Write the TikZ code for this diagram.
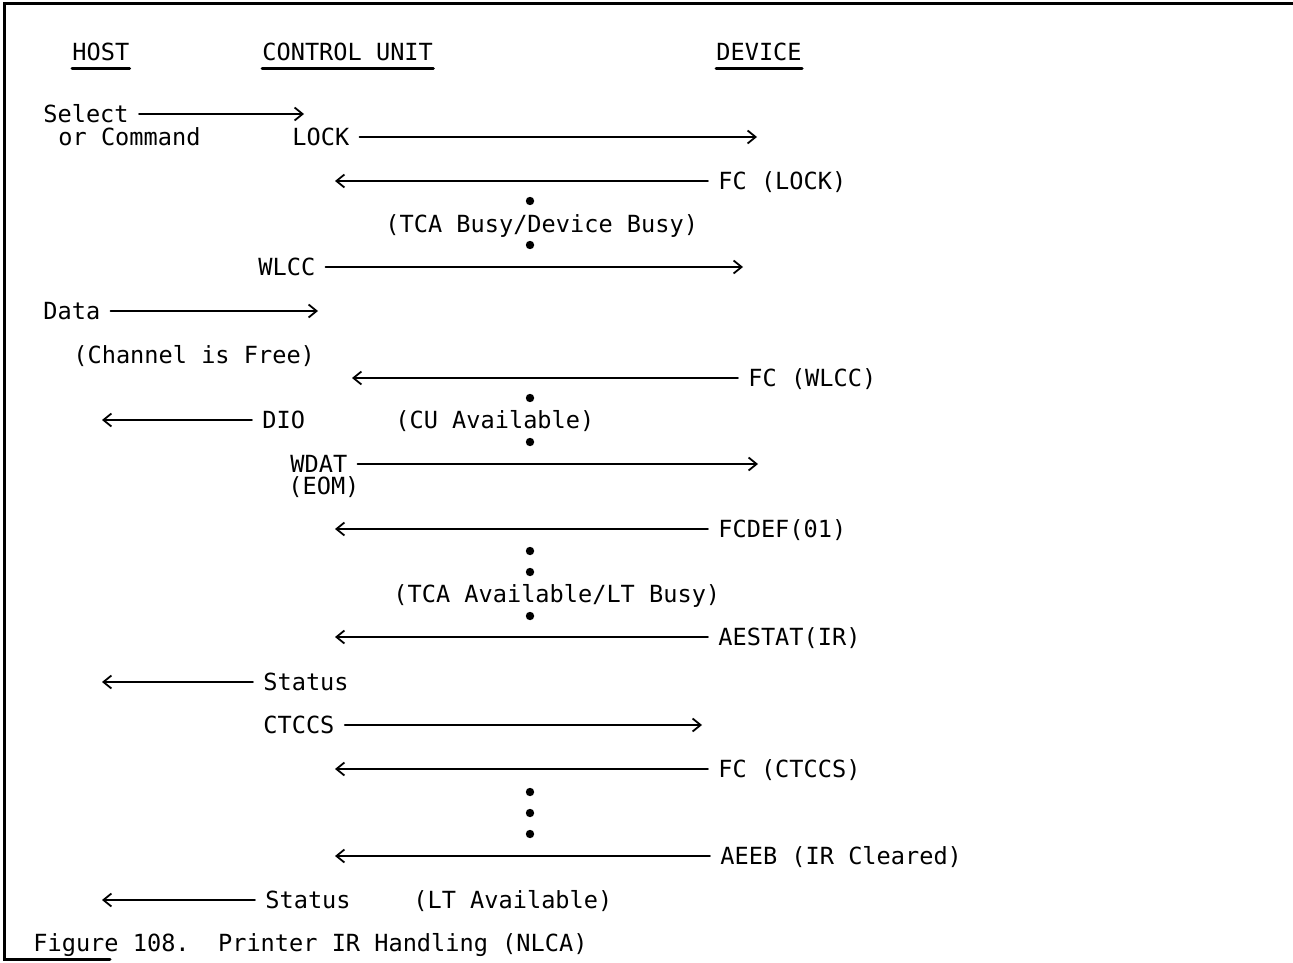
\documentclass[tikz,border=0pt]{standalone}
\usepackage{fontspec}
\setmonofont{DejaVu Sans Mono}
\usetikzlibrary{arrows.meta}
\begin{document}
\begin{tikzpicture}[x=0.5pt,y=-0.5pt,line cap=round,
    lbl/.style={anchor=west,inner sep=0pt,text height=9.4pt,text depth=0.8pt,
      font=\ttfamily\fontsize{11.8}{14}\selectfont},
    msg/.style={-{Straight Barb[length=4pt,width=6.5pt]},line width=0.9pt,shorten <=5pt},
    uline/.style={line width=1.5pt},
    dot/.style={circle,fill,inner sep=0pt,minimum size=4.2pt}]
  \useasboundingbox (0,0) rectangle (1293,962);
  % frame
  \draw[line width=1.5pt] (1293,4) -- (4,4) -- (4,959) -- (110,959);
  % headers
  \node[lbl] (host) at (72,52) {HOST};
  \node[lbl] (cu) at (262,52) {CONTROL UNIT};
  \node[lbl] (dev) at (716,52) {DEVICE};
  \foreach \h in {host,cu,dev}
    \draw[uline] ([yshift=-3pt]\h.south west) -- ([yshift=-3pt]\h.south east);
  % select / lock
  \node[lbl] (select) at (43,114) {Select};
  \coordinate (selectend) at (304,114);
  \draw[msg] (select.east) -- (selectend);
  \node[lbl] (command) at (58,137) {or Command};
  \node[lbl] (lock) at (292,137) {LOCK};
  \coordinate (lockend) at (757,137);
  \draw[msg] (lock.east) -- (lockend);
  \node[lbl] (fclock) at (718,181) {FC (LOCK)};
  \coordinate (fclockend) at (335,181);
  \draw[msg] (fclock.west) -- (fclockend);
  \node[dot] (d1) at (530,201) {};
  \node[lbl] (busy) at (385,224) {(TCA Busy/Device Busy)};
  \node[dot] (d2) at (530,245) {};
  \node[lbl] (wlcc) at (258,267) {WLCC};
  \coordinate (wlccend) at (743,267);
  \draw[msg] (wlcc.east) -- (wlccend);
  % data
  \node[lbl] (data) at (43,311) {Data};
  \coordinate (dataend) at (318,311);
  \draw[msg] (data.east) -- (dataend);
  \node[lbl] (free) at (73,355) {(Channel is Free)};
  \node[lbl] (fcwlcc) at (748,378) {FC (WLCC)};
  \coordinate (fcwlccend) at (352,378);
  \draw[msg] (fcwlcc.west) -- (fcwlccend);
  \node[dot] (d3) at (530,398) {};
  \node[lbl] (dio) at (262,420) {DIO};
  \coordinate (dioend) at (102,420);
  \draw[msg] (dio.west) -- (dioend);
  \node[lbl] (cuavail) at (395,420) {(CU Available)};
  \node[dot] (d4) at (530,442) {};
  \node[lbl] (wdat) at (290,464) {WDAT};
  \coordinate (wdatend) at (758,464);
  \draw[msg] (wdat.east) -- (wdatend);
  \node[lbl] (eom) at (288,486) {(EOM)};
  % fcdef / aestat
  \node[lbl] (fcdef) at (718,529) {FCDEF(01)};
  \coordinate (fcdefend) at (335,529);
  \draw[msg] (fcdef.west) -- (fcdefend);
  \node[dot] (d5) at (530,551) {};
  \node[dot] (d6) at (530,572) {};
  \node[lbl] (ltbusy) at (393,594) {(TCA Available/LT Busy)};
  \node[dot] (d7) at (530,616) {};
  \node[lbl] (aestat) at (718,637) {AESTAT(IR)};
  \coordinate (aestatend) at (335,637);
  \draw[msg] (aestat.west) -- (aestatend);
  \node[lbl] (status1) at (263,682) {Status};
  \coordinate (status1end) at (102,682);
  \draw[msg] (status1.west) -- (status1end);
  % ctccs / aeeb
  \node[lbl] (ctccs) at (263,725) {CTCCS};
  \coordinate (ctccsend) at (702,725);
  \draw[msg] (ctccs.east) -- (ctccsend);
  \node[lbl] (fcctccs) at (718,769) {FC (CTCCS)};
  \coordinate (fcctccsend) at (335,769);
  \draw[msg] (fcctccs.west) -- (fcctccsend);
  \node[dot] (d8) at (530,792) {};
  \node[dot] (d9) at (530,813) {};
  \node[dot] (d10) at (530,834) {};
  \node[lbl] (aeeb) at (720,856) {AEEB (IR Cleared)};
  \coordinate (aeebend) at (335,856);
  \draw[msg] (aeeb.west) -- (aeebend);
  \node[lbl] (status2) at (265,900) {Status};
  \coordinate (status2end) at (102,900);
  \draw[msg] (status2.west) -- (status2end);
  \node[lbl] (ltavail) at (413,900) {(LT Available)};
  % caption
  \node[lbl] (caption) at (33,943) {Figure 108.\ \ Printer IR Handling (NLCA)};
\end{tikzpicture}
\end{document}
